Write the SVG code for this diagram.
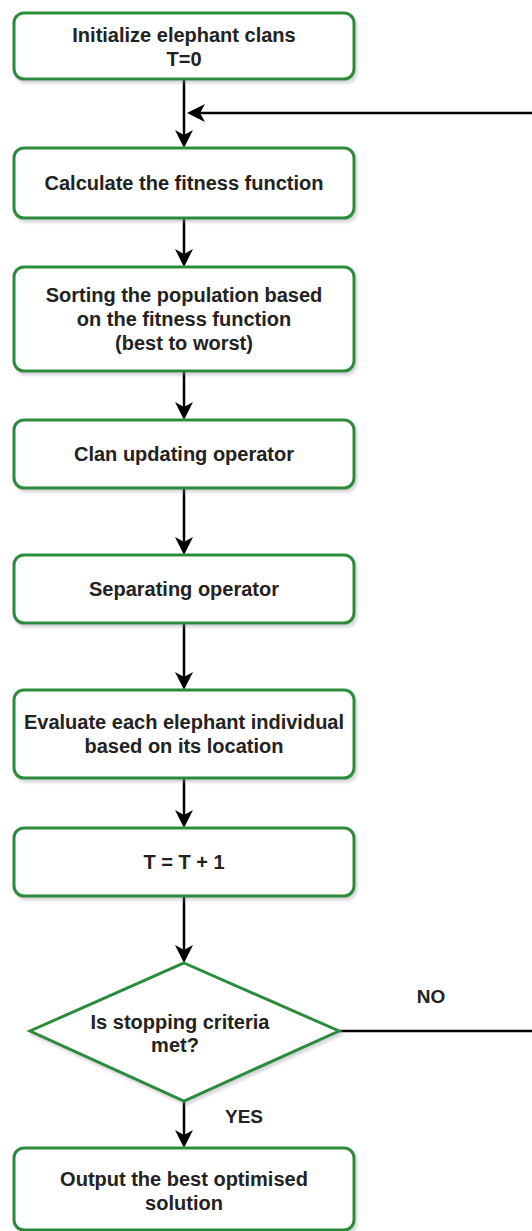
<svg xmlns="http://www.w3.org/2000/svg" width="532" height="1231" viewBox="0 0 532 1231">
  <style>
    .box { fill: #ffffff; stroke: #2b8c3b; stroke-width: 3; filter: url(#shadow); }
    .lbl { font-family: "Liberation Sans", Arial, sans-serif; font-size: 20px; font-weight: bold; fill: #222222; text-anchor: middle; }
    .tag { font-family: "Liberation Sans", Arial, sans-serif; font-size: 19px; font-weight: bold; fill: #222222; text-anchor: middle; }
    .edge { fill: none; stroke: #000000; stroke-width: 2.5; }
  </style>
  <defs>
    <filter id="shadow" x="-5%" y="-10%" width="115%" height="130%">
      <feDropShadow dx="2" dy="3" stdDeviation="1.5" flood-color="#8a8a9a" flood-opacity="0.35"/>
    </filter>
    <marker id="arrow" markerUnits="userSpaceOnUse" viewBox="0 0 18 18" markerWidth="18" markerHeight="18" refX="5" refY="9" orient="auto">
      <path d="M0,0 L18,9 L0,18 L5,9 Z" fill="#000000"/>
    </marker>
  </defs>

  <rect width="532" height="1231" fill="#ffffff"/>

  <!-- connectors -->
  <g id="connectors">
    <path class="edge" d="M184,79 V135" marker-end="url(#arrow)"/>
    <path class="edge" d="M339,1031 H545 V113 H200" marker-end="url(#arrow)"/>
    <path class="edge" d="M184,218 V254" marker-end="url(#arrow)"/>
    <path class="edge" d="M184,371 V407" marker-end="url(#arrow)"/>
    <path class="edge" d="M184,488 V542" marker-end="url(#arrow)"/>
    <path class="edge" d="M184,623 V677" marker-end="url(#arrow)"/>
    <path class="edge" d="M184,778 V815" marker-end="url(#arrow)"/>
    <path class="edge" d="M184,896 V950" marker-end="url(#arrow)"/>
    <path class="edge" d="M184,1101 V1135" marker-end="url(#arrow)"/>
    <text class="tag" x="431" y="1003">NO</text>
    <text class="tag" x="244" y="1123">YES</text>
  </g>

  <!-- nodes -->
  <g id="init">
    <rect class="box" x="14" y="13" width="340" height="66" rx="10"/>
    <text class="lbl" x="184" y="42">Initialize elephant clans</text>
    <text class="lbl" x="184" y="66">T=0</text>
  </g>
  <g id="fitness">
    <rect class="box" x="14" y="148" width="340" height="70" rx="10"/>
    <text class="lbl" x="184" y="190">Calculate the fitness function</text>
  </g>
  <g id="sorting">
    <rect class="box" x="14" y="267" width="340" height="104" rx="10"/>
    <text class="lbl" x="184" y="302">Sorting the population based</text>
    <text class="lbl" x="184" y="326">on the fitness function</text>
    <text class="lbl" x="184" y="350">(best to worst)</text>
  </g>
  <g id="clan-update">
    <rect class="box" x="14" y="420" width="340" height="68" rx="10"/>
    <text class="lbl" x="184" y="461">Clan updating operator</text>
  </g>
  <g id="separating">
    <rect class="box" x="14" y="555" width="340" height="68" rx="10"/>
    <text class="lbl" x="184" y="596">Separating operator</text>
  </g>
  <g id="evaluate">
    <rect class="box" x="14" y="690" width="340" height="88" rx="10"/>
    <text class="lbl" x="184" y="729">Evaluate each elephant individual</text>
    <text class="lbl" x="184" y="753">based on its location</text>
  </g>
  <g id="increment">
    <rect class="box" x="14" y="828" width="340" height="68" rx="10"/>
    <text class="lbl" x="184" y="869">T = T + 1</text>
  </g>
  <g id="stop-check">
    <polygon class="box" points="184,963 339,1031 184,1101 30,1031"/>
    <text class="lbl" x="180" y="1029">Is stopping criteria</text>
    <text class="lbl" x="175" y="1052">met?</text>
  </g>
  <g id="output">
    <rect class="box" x="14" y="1148" width="340" height="82" rx="10"/>
    <text class="lbl" x="184" y="1186">Output the best optimised</text>
    <text class="lbl" x="184" y="1210">solution</text>
  </g>
</svg>
